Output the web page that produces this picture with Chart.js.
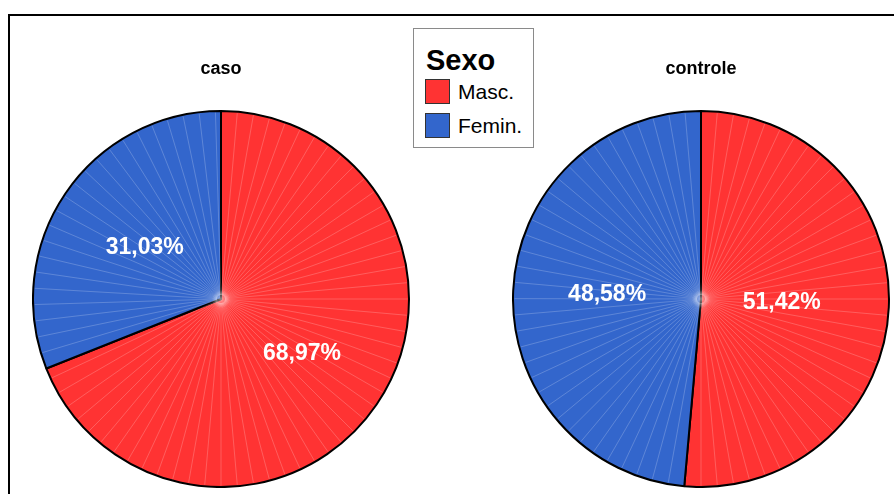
<!DOCTYPE html>
<html>
<head>
<meta charset="utf-8">
<script src="https://cdn.jsdelivr.net/npm/chart.js@4.4.1/dist/chart.umd.min.js"></script>
<style>
  body { margin: 0; background: #fff; width: 894px; height: 494px; overflow: hidden; position: relative; font-family: 'Liberation Sans', Arial, sans-serif; }
  .frame { position: absolute; left: 8px; top: 14px; width: 1000px; height: 1000px; border: 2px solid #000; }
  .pie { position: absolute; top: 57px; }
  #legend { position: absolute; left: 413px; top: 28px; width: 119px; height: 118px; border: 1px solid #8a8a8a; background: #fff; }
  #legend .ttl { position: absolute; left: 12px; top: 16px; font-size: 29px; font-weight: bold; line-height: 30px; }
  #legend .row { position: absolute; left: 11px; height: 25px; font-size: 21px; line-height: 25px; }
  #legend .sw { position: absolute; left: 0; top: 0; width: 23px; height: 23px; border: 1px solid #333; }
  #legend .lbl { position: absolute; left: 33px; top: 0; white-space: nowrap; }
</style>
</head>
<body>
<div class="frame"></div>
<canvas id="caso" class="pie" style="left:32px"></canvas>
<canvas id="controle" class="pie" style="left:512px"></canvas>
<div id="legend"></div>

<script>
// percentages per group (Masc., Femin.)
const categories = ['Masc.', 'Femin.'];
const casoValues = [68.97, 31.03];
const controleValues = [51.42, 48.58];
const legendTitle = 'Sexo';

const colors = ['#ff3333', '#3366cc'];
const FONT = "'Liberation Sans', Arial, sans-serif";

// legend box shared by both pies
const legend = document.getElementById('legend');
legend.innerHTML = '<div class="ttl">' + legendTitle + '</div>';
categories.forEach((c, i) => {
  const row = document.createElement('div');
  row.className = 'row';
  row.style.top = (50 + i * 34) + 'px';
  row.innerHTML = '<div class="sw" style="background:' + colors[i] + '"></div><div class="lbl">' + c + '</div>';
  legend.appendChild(row);
});

// thin white seams across every slice, a soft centre glow, then the percent labels
const seamsAndLabels = {
  id: 'seamsAndLabels',
  afterDatasetsDraw(chart, args, opts) {
    const ctx = chart.ctx;
    const meta = chart.getDatasetMeta(0);
    const step = Math.PI / 36;
    ctx.save();
    ctx.strokeStyle = 'rgba(255,255,255,0.3)';
    ctx.lineWidth = 0.7;
    let cx = 0, cy = 0;
    meta.data.forEach(arc => {
      const { x, y, startAngle, endAngle, outerRadius } = arc.getProps(['x', 'y', 'startAngle', 'endAngle', 'outerRadius'], true);
      cx = x; cy = y;
      for (let a = startAngle + step; a < endAngle - step * 0.3; a += step) {
        ctx.beginPath();
        ctx.moveTo(x + Math.cos(a) * 4, y + Math.sin(a) * 4);
        ctx.lineTo(x + Math.cos(a) * (outerRadius - 1.5), y + Math.sin(a) * (outerRadius - 1.5));
        ctx.stroke();
      }
    });
    const glow = ctx.createRadialGradient(cx, cy, 0, cx, cy, 9);
    glow.addColorStop(0, 'rgba(255,255,255,0.55)');
    glow.addColorStop(1, 'rgba(255,255,255,0)');
    ctx.fillStyle = glow;
    ctx.fillRect(cx - 10, cy - 10, 20, 20);

    ctx.fillStyle = '#fff';
    ctx.font = 'bold 23px ' + FONT;
    ctx.textAlign = 'center';
    ctx.textBaseline = 'middle';
    const values = chart.data.datasets[0].data;
    meta.data.forEach((arc, i) => {
      const { x, y, startAngle, endAngle, outerRadius } = arc.getProps(['x', 'y', 'startAngle', 'endAngle', 'outerRadius'], true);
      const mid = (startAngle + endAngle) / 2;
      const r = outerRadius * opts.radius[i];
      ctx.fillText(values[i].toFixed(2).replace('.', ',') + '%', x + Math.cos(mid) * r, y + Math.sin(mid) * r);
    });
    ctx.restore();
  }
};

function makePie(id, title, values, labelRadius) {
  const canvas = document.getElementById(id);
  canvas.width = 378;
  canvas.height = 431;
  return new Chart(canvas, {
    type: 'pie',
    data: {
      labels: categories,
      datasets: [{
        data: values,
        backgroundColor: colors,
        borderColor: '#000',
        borderWidth: 2,
        hoverOffset: 0,
        offset: 0
      }]
    },
    options: {
      responsive: false,
      animation: false,
      events: [],
      layout: { padding: 0 },
      plugins: {
        legend: { display: false },
        tooltip: { enabled: false },
        title: {
          display: true,
          text: title,
          color: '#000',
          font: { family: FONT, size: 18, weight: 'bold', lineHeight: 1.2 },
          padding: { top: 1, bottom: 30.4 }
        },
        seamsAndLabels: { radius: labelRadius }
      }
    },
    plugins: [seamsAndLabels]
  });
}

makePie('caso', 'caso', casoValues, [0.52, 0.49]);
makePie('controle', 'controle', controleValues, [0.43, 0.5]);
</script>
</body>
</html>
